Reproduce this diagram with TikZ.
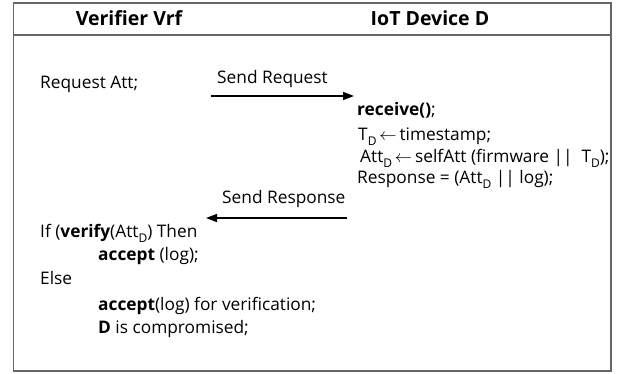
\documentclass[tikz,border=0pt]{standalone}
\usepackage{fontspec}
\setmainfont{Open Sans}
\usetikzlibrary{arrows.meta}
\newcommand{\dsub}{\raisebox{-0.55ex}{\fontsize{12}{12}\selectfont D}}
\newcommand{\larr}{\,$\leftarrow$\,}
\begin{document}
\begin{tikzpicture}[x=1pt,y=-1pt,
  txt/.style={anchor=base west,inner sep=0pt,font=\fontsize{17.3}{19}\selectfont},
  hdr/.style={anchor=base,inner sep=0pt,font=\fontsize{19.5}{21}\selectfont\bfseries},
  msg/.style={-{Triangle[length=11pt,width=8pt]},line width=1.4pt},
  frame/.style={draw=black!60,line width=1.3pt}]
\useasboundingbox (0,0) rectangle (625,373);
\draw[frame] (13.5,3) rectangle (611,371);
\draw[frame] (13.5,35) -- (611,35);
\node[hdr] (hv) at (129,25) {Verifier Vrf};
\node[hdr] (hd) at (430,25) {IoT Device D};
\node[txt] (req) at (40,88) {Request Att;};
\coordinate (r1) at (211,96);
\coordinate (r2) at (354,96);
\draw[msg] (r1) -- (r2);
\node[txt] (sr) at (217,83) {Send Request};
\node[txt] (rc) at (357,115) {\textbf{receive()};};
\node[txt] (td) at (358,140) {T\dsub\larr timestamp;};
\node[txt] (at) at (360,162) {Att\dsub\larr selfAtt (firmware || \ T\dsub);};
\node[txt] (rs) at (357,183) {Response = (Att\dsub\ || log);};
\coordinate (s1) at (347,218);
\coordinate (s2) at (206,218);
\draw[msg] (s1) -- (s2);
\node[txt] (sresp) at (222,203) {Send Response};
\node[txt] (if) at (40,237) {If (\textbf{verify}(Att\dsub) Then};
\node[txt] (ac1) at (98,260) {\textbf{accept} (log);};
\node[txt] (el) at (40,284) {Else};
\node[txt] (ac2) at (98,310) {\textbf{accept}(log) for verification;};
\node[txt] (dc) at (98,333) {\textbf{D} is compromised;};
\end{tikzpicture}
\end{document}
